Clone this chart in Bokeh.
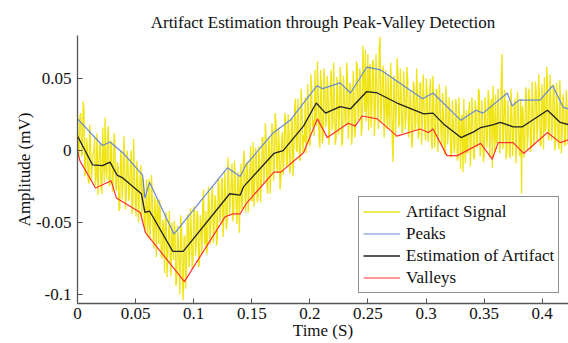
from bokeh.plotting import figure
from bokeh.models import Range1d, FixedTicker, Legend, LegendItem
from bokeh.embed import file_html
from bokeh.resources import INLINE

# ---- data -------------------------------------------------------------
sample_interval_s = 0.0007

# artifact signal, in microvolts (1e-3 mV), one value per sample
artifact_uV = [
    22, -5, 0, 24, 26, -4, -2, 34, 29, -18, -13, 9, 3, -20, -23, 18, 7, -21, -12, -2,
    -1, 9, -24, -18, 12, -31, -16, 3, 5, -26, -30, 16, -6, -22, 23, -13, -20, 12, 17, -25,
    -23, 7, 0, -29, -19, 12, 5, -25, -28, -8, -12, -42, -40, 0, -4, -34, -23, 10, -9, -41,
    -31, 0, -6, -35, -28, -10, 0, -44, -39, 8, -18, -35, -46, -7, -16, -50, -32, -18, -10, -48,
    -20, -19, -49, -56, -37, -20, -60, -49, -20, -62, -51, -17, -32, -59, -68, -32, -44, -74, -34, -40,
    -65, -34, -46, -73, -75, -48, -55, -85, -46, -43, -88, -72, -58, -42, -78, -87, -50, -62, -76, -49,
    -57, -94, -90, -52, -62, -82, -100, -45, -54, -91, -104, -60, -59, -96, -82, -48, -44, -81, -73, -40,
    -57, -82, -76, -39, -42, -73, -66, -42, -45, -81, -78, -45, -52, -72, -38, -27, -62, -66, -42, -72,
    -65, -25, -37, -65, -51, -31, -25, -64, -55, -31, -35, -66, -60, -19, -25, -50, -46, -20, -19, -60,
    -46, -15, -29, -55, -49, -5, -18, -45, -36, -19, -9, -49, -44, -7, -22, -39, -51, -18, -15, -57,
    -27, -9, -41, -36, -7, 0, -33, -43, -9, -8, -43, -28, -12, 3, -35, -35, 6, -39, -22, 2,
    -3, -36, -32, 3, -7, -36, -24, 9, 9, -23, -16, 19, 7, -25, -30, 9, 4, -30, -8, 19,
    14, -21, -12, 26, 20, -11, -16, 16, 4, -27, -21, 9, 13, -17, -5, 26, 20, -11, -9, 25,
    13, -16, -11, 22, 22, -18, 0, 29, 36, 1, -1, 36, 17, -6, -7, 43, 32, -1, 11, 6,
    37, -2, 9, 46, 30, 6, 3, 53, 42, 16, 21, 10, 56, 19, 17, 62, 42, 9, 2, 56,
    42, 5, 9, 57, 48, 16, 20, 52, 43, 4, 13, 47, 56, 14, 18, 61, 34, 4, 9, 51,
    41, 11, 23, 58, 49, 3, 6, 52, 39, 20, 17, 61, 52, 8, 25, 47, 44, 4, 12, 55,
    39, 9, 18, 62, 58, 21, 25, 57, 52, 10, 16, 73, 51, 27, 70, 20, 33, 67, 14, 58,
    60, 16, 30, 63, 60, 10, 24, 67, 48, 28, 15, 72, 79, 19, 32, 52, 59, 9, 24, 56,
    28, 15, 53, 25, 15, 61, 45, 6, -8, 52, 48, 9, 28, 64, 55, 16, 20, 57, 38, 12,
    13, 55, 44, 15, 23, 58, 49, 9, 16, 42, 33, 2, 7, 48, 44, 14, 19, 57, 38, 8,
    12, 47, 47, 4, 20, 53, 35, 14, 7, 50, 40, 6, 15, 42, 50, 8, 1, 52, 33, 2,
    11, 43, 41, -1, 14, 46, 33, 10, 3, 40, 24, -1, -3, 45, 32, 4, 12, 37, 25, -5,
    -2, 35, 20, -2, 2, 36, 31, -7, -4, 37, 14, -13, 22, 25, -15, 36, 3, -9, 28, -2,
    -1, 27, 34, -11, 7, 37, 22, -4, -6, 35, 28, 2, 6, 43, 41, -4, 1, 35, 22, -8,
    -4, 37, 28, 2, 9, 42, 34, -5, 31, 36, -12, 45, 14, -1, 39, 5, 7, 43, 27, -2,
    6, 49, 67, 1, 10, 42, 33, -6, 0, 35, 24, -3, -5, 43, 29, -4, 10, 32, 36, -9,
    6, 41, 31, 0, -4, 36, -30, 31, 26, -5, 3, 44, 39, 1, 11, 43, 33, -1, 4, 48,
    31, 3, 9, 48, 42, 7, 18, 53, 38, 3, 4, 46, 34, 1, 51, 13, 16, 58, 44, 7,
    10, 53, 38, 7, 16, 46, 45, 0, 9, 47, 28, 6, 1, 49, 35, -2, 14, 39, 30, 3,
    6, 42, 27, 4,
]

peak_t = [0, 0.0215, 0.028, 0.039, 0.056, 0.058, 0.062, 0.083, 0.129, 0.140,
          0.145, 0.168, 0.183, 0.206, 0.211, 0.226, 0.235, 0.249, 0.261, 0.297,
          0.306, 0.330, 0.343, 0.349, 0.370, 0.374, 0.380, 0.398, 0.409, 0.418, 0.4226]
peak_v = [0.022, 0.0035, 0.006, -0.0015, -0.017, -0.033, -0.022, -0.058, -0.012, -0.018,
          -0.010, 0.012, 0.021, 0.045, 0.043, 0.047, 0.040, 0.058, 0.056, 0.036,
          0.040, 0.021, 0.028, 0.026, 0.040, 0.031, 0.035, 0.035, 0.045, 0.030, 0.029]

valley_t = [0, 0.002, 0.0155, 0.029, 0.0335, 0.054, 0.0585, 0.092, 0.127, 0.134,
            0.140, 0.145, 0.169, 0.175, 0.1945, 0.2065, 0.215, 0.233, 0.239, 0.245,
            0.258, 0.275, 0.295, 0.302, 0.306, 0.318, 0.327, 0.347, 0.357, 0.362,
            0.375, 0.384, 0.4045, 0.4155, 0.4226]
valley_v = [0.0, -0.007, -0.026, -0.021, -0.033, -0.043, -0.057, -0.091, -0.046, -0.044,
            -0.044, -0.037, -0.015, -0.015, -0.0015, 0.022, 0.009, 0.019, 0.017, 0.024,
            0.022, 0.010, 0.015, 0.0125, 0.015, -0.0035, -0.0035, 0.005, -0.006, 0.0055,
            0.0055, -0.002, 0.0125, 0.0055, 0.0075]

estimate_t = [0, 0.013, 0.0215, 0.028, 0.034, 0.039, 0.055, 0.058, 0.062, 0.082,
              0.091, 0.131, 0.140, 0.143, 0.169, 0.177, 0.1945, 0.2055, 0.2135, 0.226,
              0.235, 0.249, 0.258, 0.275, 0.298, 0.306, 0.315, 0.330, 0.341, 0.347,
              0.358, 0.364, 0.375, 0.383, 0.4045, 0.4155, 0.4226]
estimate_v = [0.010, -0.010, -0.0105, -0.008, -0.017, -0.019, -0.030, -0.043, -0.042, -0.070,
              -0.070, -0.030, -0.031, -0.025, -0.002, 0.000, 0.017, 0.033, 0.026, 0.0305,
              0.029, 0.041, 0.040, 0.033, 0.0255, 0.026, 0.0185, 0.009, 0.013, 0.016,
              0.018, 0.0195, 0.0165, 0.0165, 0.028, 0.0195, 0.018]

x_ticks = [0, 0.05, 0.1, 0.15, 0.2, 0.25, 0.3, 0.35, 0.4]
x_tick_labels = ["0", "0.05", "0.1", "0.15", "0.2", "0.25", "0.3", "0.35", "0.4"]
y_ticks = [-0.1, -0.05, 0, 0.05]
y_tick_labels = ["-0.1", "-0.05", "0", "0.05"]

# ---- derived ----------------------------------------------------------
t_signal = [i * sample_interval_s for i in range(len(artifact_uV))]
artifact_mV = [v / 1000.0 for v in artifact_uV]

SERIF = "Liberation Serif"

p = figure(width=568, height=343, output_backend="svg", toolbar_location=None,
           x_range=Range1d(0, 0.4226), y_range=Range1d(-0.1062, 0.0799),
           min_border_left=77, min_border_right=0, min_border_top=35,
           min_border_bottom=40)

p.title.text = "Artifact Estimation through Peak-Valley Detection"
p.title.align = "center"
p.title.text_font = SERIF
p.title.text_font_size = "17px"
p.title.text_font_style = "normal"
p.title.text_color = "#111111"
p.title.standoff = 7

p.outline_line_color = None
p.grid.visible = False
p.background_fill_color = "white"

r_sig = p.line(t_signal, artifact_mV, line_color="#f0e414", line_width=1.3)
r_peak = p.line(peak_t, peak_v, line_color="#6a8ad0", line_width=1.2)
r_est = p.line(estimate_t, estimate_v, line_color="#222222", line_width=1.3)
r_val = p.line(valley_t, valley_v, line_color="#ff3030", line_width=1.2)

for ax in (p.xaxis[0], p.yaxis[0]):
    ax.axis_line_color = "#555555"
    ax.axis_line_width = 1.3
    ax.major_tick_line_color = "#555555"
    ax.major_tick_in = 5
    ax.major_tick_out = 0
    ax.minor_tick_line_color = None
    ax.major_label_text_font = SERIF
    ax.major_label_text_font_size = "17px"
    ax.major_label_text_color = "#111111"
    ax.axis_label_text_font = SERIF
    ax.axis_label_text_font_size = "17px"
    ax.axis_label_text_font_style = "normal"
    ax.axis_label_text_color = "#111111"

p.xaxis.ticker = FixedTicker(ticks=x_ticks)
p.xaxis.major_label_overrides = dict(zip(x_ticks, x_tick_labels))
p.yaxis.ticker = FixedTicker(ticks=y_ticks)
p.yaxis.major_label_overrides = dict(zip(y_ticks, y_tick_labels))
p.xaxis.axis_label = "Time (S)"
p.yaxis.axis_label = "Amplitude (mV)"
p.xaxis.major_label_standoff = 4
p.xaxis.axis_label_standoff = -1
p.yaxis.major_label_standoff = 6
p.yaxis.axis_label_standoff = -1

legend = Legend(items=[
    LegendItem(label="Artifact Signal", renderers=[r_sig]),
    LegendItem(label="Peaks", renderers=[r_peak]),
    LegendItem(label="Estimation of Artifact", renderers=[r_est]),
    LegendItem(label="Valleys", renderers=[r_val]),
], location=(281, 10))
legend.label_text_font = SERIF
legend.label_text_font_size = "17px"
legend.label_text_color = "#111111"
legend.border_line_color = "#222222"
legend.border_line_width = 1
legend.background_fill_alpha = 1
legend.padding = 4
legend.spacing = 1
legend.label_height = 21
legend.glyph_height = 21
legend.glyph_width = 37
legend.label_standoff = 6
legend.margin = 0
p.add_layout(legend, "center")

open("out.html", "w").write(file_html(p, INLINE))
